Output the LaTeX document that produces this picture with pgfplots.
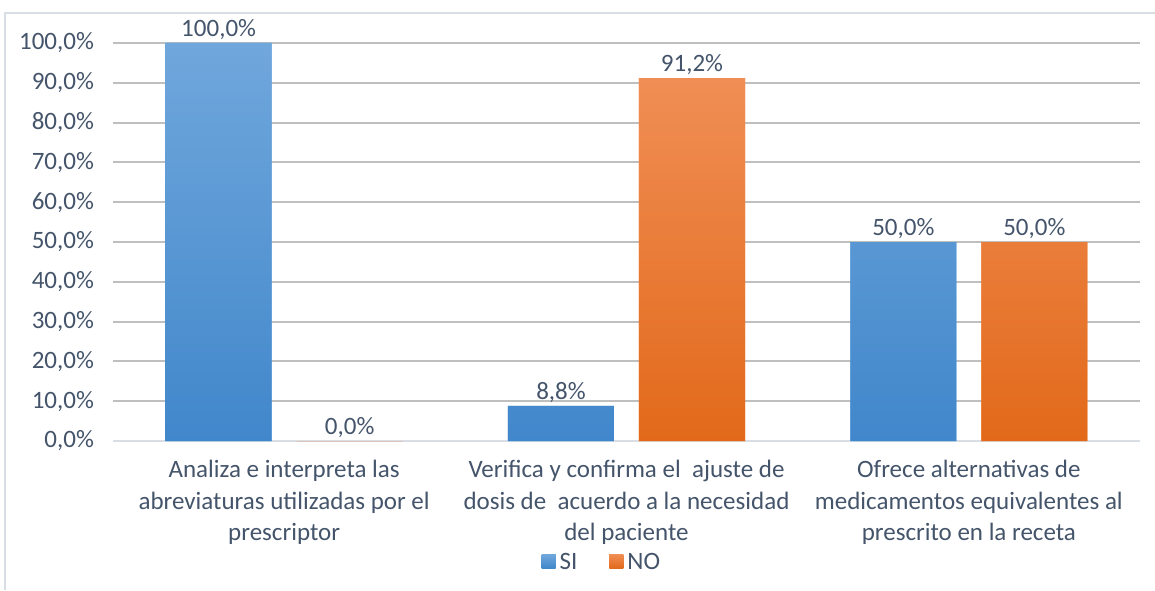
\documentclass[border=0pt]{standalone}
\usepackage{pgfplots}
\pgfplotsset{compat=1.18}
\usepackage{fontspec}
\setmainfont{Carlito}
\definecolor{txt}{HTML}{44546A}
\definecolor{grid}{HTML}{D9DEE4}
\definecolor{siT}{HTML}{70A7DC}
\definecolor{siM}{HTML}{5B9EE0}
\definecolor{siB}{HTML}{4187CB}
\definecolor{noT}{HTML}{F08E55}
\definecolor{noM}{HTML}{F5862E}
\definecolor{noB}{HTML}{E2691A}
\begin{document}
\begin{tikzpicture}
\begin{axis}[
  scale only axis,
  width=513.5pt, height=199pt,
  ybar=12.5pt, bar width=53pt,
  xmin=-0.5, xmax=2.5, ymin=0, ymax=100,
  xtick={0,1,2},
  xticklabels={{Analiza e interpreta las\\abreviaturas utilizadas por el\\prescriptor},
               {Verifica y confirma el\ \ ajuste de\\dosis de\ \ acuerdo a la necesidad\\del paciente},
               {Ofrece alternativas de\\medicamentos equivalentes al\\prescrito en la receta}},
  xticklabel style={align=center, text=txt, font=\fontsize{12.5}{15.8}\selectfont, yshift=-6pt},
  ytick={0,10,...,100},
  yticklabel={\pgfmathprintnumber[fixed,fixed zerofill,precision=1,use comma]{\tick}\%},
  yticklabel style={text=txt, font=\fontsize{12.5}{15}\selectfont, xshift=-6pt},
  /pgf/number format/assume math mode=true,
  ymajorgrids, xmajorgrids=false, grid style={grid, line width=1pt},
  axis x line*=bottom, axis y line*=left,
  x axis line style={grid, line width=1pt, -},
  y axis line style={draw=none},
  xtick style={draw=none}, ytick style={draw=none},
  major tick length=0pt,
  nodes near coords={\pgfmathprintnumber[fixed,fixed zerofill,precision=1,use comma]{\pgfplotspointmeta}\%},
  nodes near coords style={text=txt, font=\fontsize{12.5}{15}\selectfont, inner sep=1.5pt},
  legend style={at={(0.477,-0.305)}, anchor=center, draw=none, legend columns=2,
    font=\fontsize{12.5}{15}\selectfont, text=txt,
    /tikz/every even column/.append style={column sep=14pt}},
  legend image code/.code={\fill[#1] (0pt,-3pt) rectangle (7pt,4pt);},
  clip=false,
]
\addplot[draw=none, shade, top color=siT, middle color=siM, bottom color=siB, fill=siM] coordinates {(0,100) (1,8.8) (2,50)};
\addplot[draw=none, shade, top color=noT, middle color=noM, bottom color=noB, fill=noM] coordinates {(0,0) (1,91.2) (2,50)};
\legend{SI,NO}
\coordinate (bl) at (rel axis cs:-0.110,-0.3744);
\coordinate (tr) at (rel axis cs:1.0146,1.108);
\draw[grid, line width=1pt] (rel axis cs:-0.1052,-0.3744) -- (rel axis cs:-0.1052,1.0754) -- (rel axis cs:1.0146,1.0754);
\end{axis}
\pgfresetboundingbox
\path[use as bounding box] (bl) rectangle (tr);
\end{tikzpicture}
\end{document}
